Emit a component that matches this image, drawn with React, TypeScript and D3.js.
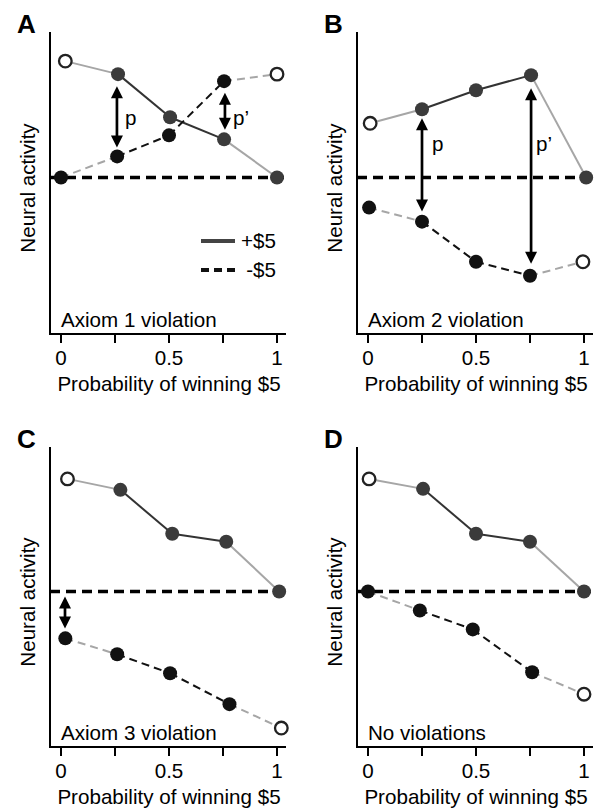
import React from "react";
import * as d3 from "d3";

const W = 601;
const H = 809;
const FONT = "'Liberation Sans', Arial, Helvetica, sans-serif";
const FS = 20.6;

// ---- data ----
const panelLetters = ["A", "B", "C", "D"];
const panelCaptions = ["Axiom 1 violation", "Axiom 2 violation", "Axiom 3 violation", "No violations"];
const xTickValues = [0, 0.25, 0.5, 0.75, 1];
const xTickLabels = ["0", "", "0.5", "", "1"];
const xAxisTitle = "Probability of winning $5";
const yAxisTitle = "Neural activity";
const legendLabels = ["+$5", "-$5"];

// +$5 series (x = probability, y = neural activity relative to baseline)
const gainX = [
  [0.02, 0.264, 0.505, 0.755, 1.0],
  [0.01, 0.25, 0.5, 0.755, 1.01],
  [0.03, 0.275, 0.515, 0.765, 1.01],
  [0.005, 0.255, 0.5, 0.75, 1.0],
];
const gainY = [
  [1.16, 1.03, 0.6, 0.38, 0],
  [0.54, 0.68, 0.87, 1.02, 0],
  [1.13, 1.02, 0.58, 0.5, 0],
  [1.13, 1.03, 0.58, 0.5, 0],
];
// -$5 series
const lossX = [
  [0, 0.26, 0.5, 0.755, 1.0],
  [0.005, 0.25, 0.5, 0.75, 0.995],
  [0.02, 0.26, 0.505, 0.78, 1.02],
  [0, 0.24, 0.485, 0.76, 1.0],
];
const lossY = [
  [0, 0.21, 0.42, 0.96, 1.03],
  [-0.3, -0.44, -0.84, -0.98, -0.84],
  [-0.47, -0.63, -0.82, -1.13, -1.37],
  [0, -0.19, -0.38, -0.81, -1.03],
];
const openGainIndex = [0, 0, 0, 0];
const openLossIndex = [4, 4, 4, 4];

// double-headed arrows (annotation)
const arrowX = [[0.259, 0.759], [0.25, 0.755], [0.0185], []];
const arrowFrom = [[0.91, 0.845], [0.59, 0.89], [-0.05], []];
const arrowTo = [[0.3, 0.475], [-0.34, -0.86], [-0.37], []];
const arrowLabels = [["p", "p\u2019"], ["p", "p\u2019"], [""], []];
const arrowLabelY = [[0.525, 0.525], [0.26, 0.26], [0], []];

const yDomain = [-1.56, 1.45];

// ---- layout ----
const panelLeft = [50, 357, 50, 357];
const panelTop = [32, 32, 447, 447];
const panelBottom = [334, 334, 747, 747];
const labelDx = [[8, 8], [10, 5], [0], []];

const GRAY = "#a6a6a6";
const DARK = "#333333";
const GAIN_FILL = "#3b3b3b";
const LOSS_FILL = "#111111";
const R = 7;

function Arrow({ x, y1, y2 }: { x: number; y1: number; y2: number }) {
  const top = Math.min(y1, y2);
  const bot = Math.max(y1, y2);
  const hl = 12;
  const hw = 6;
  return (
    <g>
      <line x1={x} x2={x} y1={top + hl - 1} y2={bot - hl + 1} stroke="#000" strokeWidth={2.7} />
      <path d={`M${x},${top} L${x - hw},${top + hl} L${x + hw},${top + hl} Z`} fill="#000" />
      <path d={`M${x},${bot} L${x - hw},${bot - hl} L${x + hw},${bot - hl} Z`} fill="#000" />
    </g>
  );
}

function Panel({ i }: { i: number }) {
  const ox = panelLeft[i];
  const top = panelTop[i];
  const bottom = panelBottom[i];
  const x = d3.scaleLinear().domain([0, 1]).range([ox + 11, ox + 227]);
  const y = d3.scaleLinear().domain(yDomain).range([bottom, top]);
  const y0 = y(0);
  const line = d3
    .line<[number, number]>()
    .x((d) => x(d[0]))
    .y((d) => y(d[1]));

  const segs = (xs: number[], ys: number[], dashed: boolean) =>
    xs.slice(0, -1).map((_, k) => {
      const edge = k === 0 || k === xs.length - 2;
      return (
        <path
          key={k}
          d={line([
            [xs[k], ys[k]],
            [xs[k + 1], ys[k + 1]],
          ]) as string}
          fill="none"
          stroke={edge ? GRAY : dashed ? "#111" : DARK}
          strokeWidth={2}
          strokeDasharray={dashed ? "8,5" : undefined}
        />
      );
    });

  const dots = (xs: number[], ys: number[], openIdx: number, fill: string) =>
    xs.map((v, k) =>
      k === openIdx ? (
        <circle key={k} cx={x(v)} cy={y(ys[k])} r={6.3} fill="#fff" stroke="#222" strokeWidth={2.3} />
      ) : (
        <circle key={k} cx={x(v)} cy={y(ys[k])} r={R} fill={fill} />
      )
    );

  const axisY = bottom;
  const axisEnd = ox + 236;

  return (
    <g fontFamily={FONT}>
      <text x={ox - 33} y={top + 1} fontSize={26} fontWeight="bold" fill="#000">
        {panelLetters[i]}
      </text>
      {/* axes */}
      <line x1={ox} x2={ox} y1={top} y2={axisY + 1} stroke="#000" strokeWidth={2} />
      <line x1={ox - 1} x2={axisEnd} y1={axisY} y2={axisY} stroke="#000" strokeWidth={2} />
      {xTickValues.map((t, k) => (
        <g key={k}>
          <line x1={x(t)} x2={x(t)} y1={axisY} y2={axisY + 9} stroke="#000" strokeWidth={2} />
          {xTickLabels[k] && (
            <text x={x(t)} y={axisY + 31} fontSize={FS} textAnchor="middle" fill="#000">
              {xTickLabels[k]}
            </text>
          )}
        </g>
      ))}
      <text x={(x(0) + x(1)) / 2} y={axisY + 57} fontSize={FS} textAnchor="middle" fill="#000">
        {xAxisTitle}
      </text>
      <text
        transform={`translate(${ox - 15},${(top + bottom) / 2 + 5}) rotate(-90)`}
        fontSize={FS}
        textAnchor="middle"
        fill="#000"
      >
        {yAxisTitle}
      </text>
      {/* baseline */}
      <line x1={ox} x2={axisEnd} y1={y0} y2={y0} stroke="#000" strokeWidth={3.5} strokeDasharray="10,6" />
      {segs(gainX[i], gainY[i], false)}
      {segs(lossX[i], lossY[i], true)}
      {dots(lossX[i], lossY[i], openLossIndex[i], LOSS_FILL)}
      {dots(gainX[i], gainY[i], openGainIndex[i], GAIN_FILL)}
      {arrowX[i].map((ax, k) => (
        <g key={k}>
          <Arrow x={x(ax)} y1={y(arrowFrom[i][k])} y2={y(arrowTo[i][k])} />
          {arrowLabels[i][k] && (
            <text x={x(ax) + labelDx[i][k]} y={y(arrowLabelY[i][k])} fontSize={FS} fill="#000">
              {arrowLabels[i][k]}
            </text>
          )}
        </g>
      ))}
      <text x={ox + 11} y={bottom - 7} fontSize={FS} fill="#000">
        {panelCaptions[i]}
      </text>
      {i === 0 && (
        <g>
          <line x1={201} x2={235} y1={241} y2={241} stroke="#444" strokeWidth={4} />
          <line x1={201} x2={235} y1={270} y2={270} stroke="#111" strokeWidth={4} strokeDasharray="8,5" />
          <text x={276} y={248} fontSize={FS} textAnchor="end" fill="#000">
            {legendLabels[0]}
          </text>
          <text x={276} y={277} fontSize={FS} textAnchor="end" fill="#000">
            {legendLabels[1]}
          </text>
        </g>
      )}
    </g>
  );
}

export default function App() {
  return (
    <svg
      width={W}
      height={H}
      viewBox={`0 0 ${W} ${H}`}
      style={{ position: "absolute", left: 0, top: 0, background: "#fff" }}
    >
      <rect width={W} height={H} fill="#fff" />
      {[0, 1, 2, 3].map((i) => (
        <Panel key={i} i={i} />
      ))}
    </svg>
  );
}
